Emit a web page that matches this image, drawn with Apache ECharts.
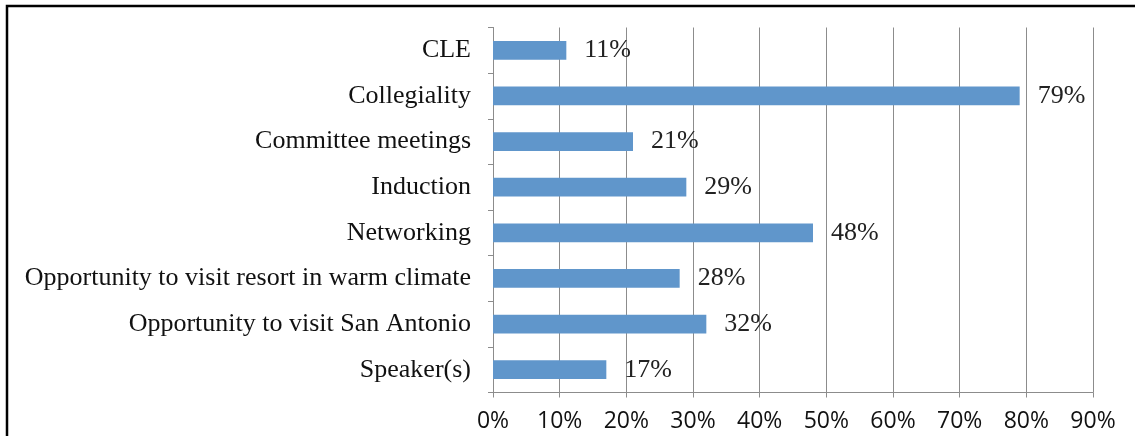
<!DOCTYPE html>
<html>
<head>
<meta charset="utf-8">
<script src="https://cdn.jsdelivr.net/npm/echarts@6/dist/echarts.min.js"></script>
<style>
  html, body { margin: 0; padding: 0; background: #fff; }
  #chart { width: 1135px; height: 436px; }
</style>
</head>
<body>
<div id="chart"></div>
<script>
const categories = [
  "CLE",
  "Collegiality",
  "Committee meetings",
  "Induction",
  "Networking",
  "Opportunity to visit resort in warm climate",
  "Opportunity to visit San Antonio",
  "Speaker(s)"
]
const values = [11, 79, 21, 29, 48, 28, 32, 17]
const xTicks = [0, 10, 20, 30, 40, 50, 60, 70, 80, 90]

const myE = echarts.init(document.getElementById("chart"))
const option = {
  animation: false,
  grid: {
    left: 493,
    right: 42,
    top: 27.5,
    bottom: 43.5,
    containLabel: false
  },
  // black frame round the picture, cut off on the right and bottom
  graphic: [
    {
      type: "rect",
      shape: { x: 7, y: 6, width: 1200, height: 500 },
      style: { fill: "none", stroke: "#000", lineWidth: 2.5 },
      silent: true
    }
  ],
  xAxis: {
    type: "value",
    min: xTicks[0],
    max: xTicks[xTicks.length - 1],
    interval: 10,
    axisLine: { show: true, lineStyle: { color: "#8c8c8c", width: 1 } },
    axisTick: { show: true, length: 5, lineStyle: { color: "#8c8c8c" } },
    splitLine: { show: true, lineStyle: { color: "#8c8c8c", width: 1 } },
    axisLabel: {
      formatter: "{value}%",
      color: "#111",
      fontFamily: "Open Sans",
      fontSize: 23,
      margin: 17
    }
  },
  yAxis: {
    type: "category",
    data: categories,
    inverse: true,
    axisLine: { show: true, lineStyle: { color: "#8c8c8c", width: 1 } },
    axisTick: { show: true, length: 5, lineStyle: { color: "#8c8c8c" } },
    axisLabel: {
      color: "#111",
      fontFamily: "Liberation Serif",
      fontSize: 26,
      margin: 22,
      padding: [3, 0, 0, 0]
    }
  },
  series: [
    {
      type: "bar",
      data: values,
      barWidth: "41%",
      itemStyle: { color: "#6096cb" },
      label: {
        show: true,
        position: "right",
        distance: 18,
        formatter: "{c}%",
        color: "#222",
        fontFamily: "Liberation Serif",
        fontSize: 26,
        padding: [3, 0, 0, 0]
      }
    }
  ]
}
myE.setOption(option)
window.addEventListener("resize", () => {
  myE.resize()
})
</script>
</body>
</html>
